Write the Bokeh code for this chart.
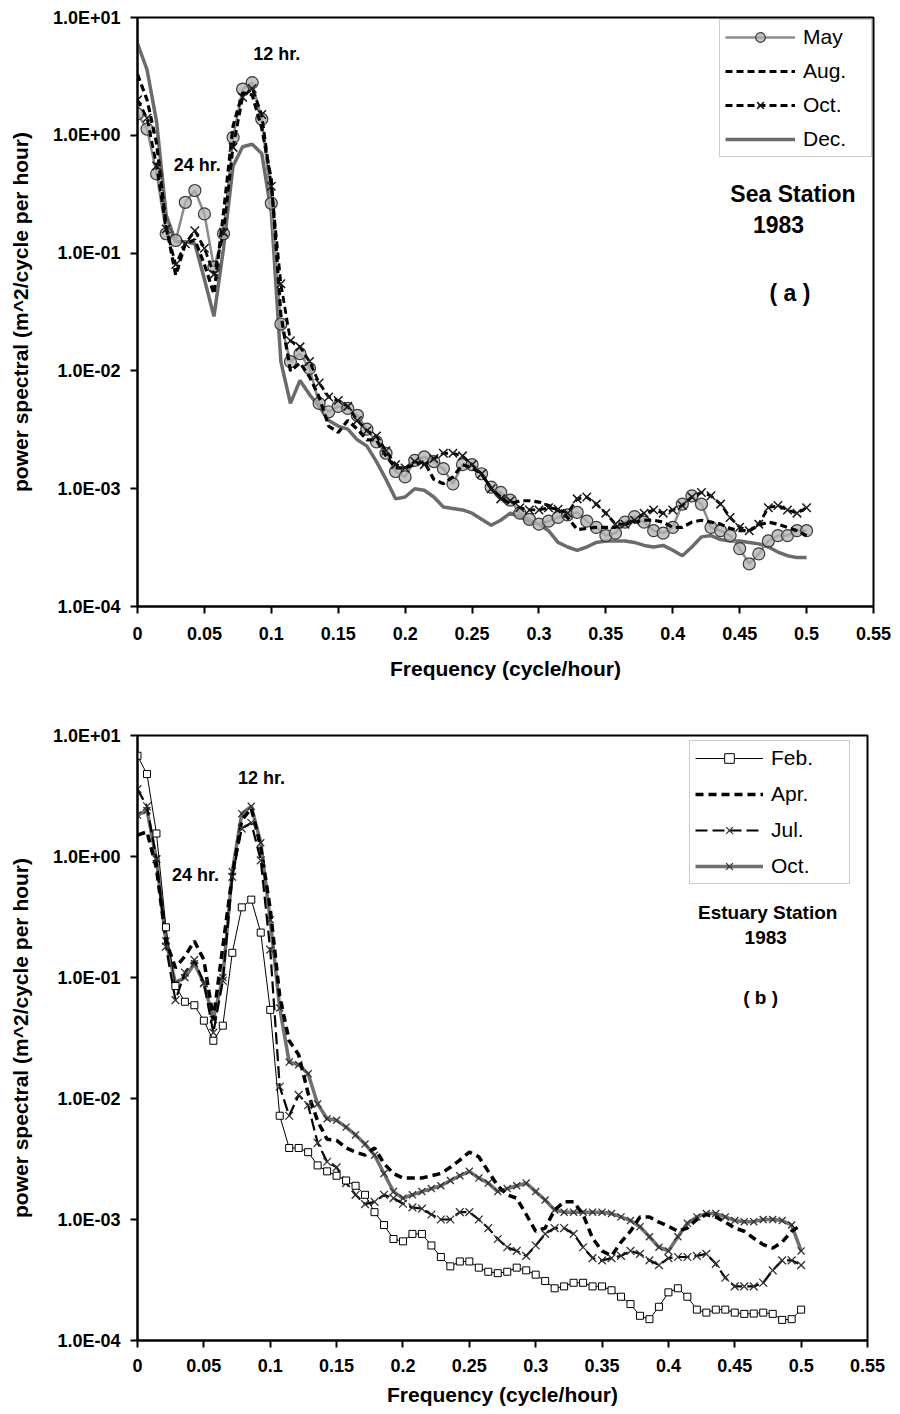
from bokeh.plotting import figure
from bokeh.layouts import column
from bokeh.models import (Range1d, FixedTicker, CustomJSTickFormatter, Legend,
                          LegendItem, Label)
from bokeh.embed import file_html
from bokeh.resources import INLINE

FONT = "Liberation Sans"

# frequency grid (cycle/hour), sampling step 1/140
freq = [round(i / 140, 6) for i in range(71)]

# ---------------- (a) Sea Station 1983 ----------------
sea_may = [1.52, 1.13, 0.47, 0.146, 0.128, 0.27, 0.34, 0.215, 0.076, 0.146,
           0.96, 2.47, 2.8, 1.37, 0.265, 0.025, 0.012, 0.014, 0.0105, 0.0053,
           0.0045, 0.005, 0.0048, 0.0042, 0.0032, 0.0025, 0.002, 0.0014, 0.00126, 0.00174,
           0.00186, 0.0017, 0.00148, 0.0011, 0.0016, 0.0016, 0.00134, 0.00103, 0.00093, 0.0008,
           0.00062, 0.00055, 0.0005, 0.00053, 0.00057, 0.0006, 0.00063, 0.00053, 0.00047, 0.0004,
           0.00042, 0.00052, 0.00058, 0.00052, 0.00044, 0.00042, 0.00047, 0.00074, 0.00087, 0.00074,
           0.00047, 0.00044, 0.0004, 0.00031, 0.00023, 0.00028, 0.00036, 0.0004, 0.0004, 0.00044, 0.00044]
sea_aug = [3.3, 2.0, 0.85, 0.17, 0.065, 0.12, 0.13, 0.08, 0.045, 0.22,
           1.2, 2.3, 2.2, 1.15, 0.42, 0.03, 0.01, 0.0117, 0.0089, 0.006,
           0.0034, 0.003, 0.0038, 0.0032, 0.0026, 0.0026, 0.0019, 0.0015, 0.0015, 0.0016,
           0.0017, 0.0012, 0.0011, 0.00126, 0.0016, 0.0015, 0.00134, 0.001, 0.00085, 0.00074,
           0.00079, 0.00079, 0.00077, 0.00072, 0.00066, 0.00057, 0.00045, 0.00046, 0.00047, 0.00047,
           0.00047, 0.0005, 0.00052, 0.00054, 0.00054, 0.00052, 0.00047, 0.00047, 0.00052, 0.00054,
           0.00052, 0.0005, 0.00046, 0.00044, 0.00044, 0.00049, 0.00052, 0.0005, 0.00047, 0.00044, 0.0004]
sea_oct = [2.0, 1.4, 0.55, 0.16, 0.08, 0.12, 0.155, 0.11, 0.066, 0.15,
           0.79, 2.1, 2.5, 1.5, 0.37, 0.055, 0.018, 0.016, 0.012, 0.0079,
           0.006, 0.0056, 0.005, 0.0038, 0.0031, 0.0028, 0.0021, 0.0016, 0.0015, 0.0017,
           0.0016, 0.0018, 0.002, 0.002, 0.0019, 0.0016, 0.00134, 0.001, 0.00082, 0.00079,
           0.00069, 0.00066, 0.00066, 0.00069, 0.00067, 0.00062, 0.00082, 0.00085, 0.00074, 0.00062,
           0.0005, 0.0005, 0.00054, 0.00062, 0.00066, 0.00062, 0.00066, 0.00072, 0.00085, 0.00093,
           0.00087, 0.00074, 0.00057, 0.00047, 0.00044, 0.0005, 0.00069, 0.00072, 0.00066, 0.00062, 0.00069]
sea_dec = [6.0, 3.6, 1.3, 0.21, 0.125, 0.125, 0.12, 0.06, 0.029, 0.11,
           0.55, 0.8, 0.84, 0.7, 0.22, 0.012, 0.0053, 0.0083, 0.0063, 0.005,
           0.0038, 0.0034, 0.0032, 0.0026, 0.0023, 0.0017, 0.0012, 0.00082, 0.00085, 0.001,
           0.00097, 0.00085, 0.0007, 0.00068, 0.00066, 0.00062, 0.00055, 0.00049, 0.00054, 0.00062,
           0.00058, 0.00052, 0.0005, 0.00044, 0.00035, 0.00032, 0.0003, 0.00032, 0.00035, 0.00036,
           0.00036, 0.00036, 0.00035, 0.00033, 0.00032, 0.00033, 0.0003, 0.00027, 0.00032, 0.00039,
           0.0004, 0.00037, 0.00036, 0.00036, 0.00035, 0.00034, 0.00032, 0.00029, 0.00027, 0.00026, 0.00026]

# ---------------- (b) Estuary Station 1983 ----------------
est_feb = [6.8, 4.8, 1.55, 0.26, 0.085, 0.063, 0.059, 0.044, 0.03, 0.04,
           0.16, 0.38, 0.44, 0.235, 0.054, 0.0072, 0.0039, 0.0039, 0.0036, 0.0028,
           0.0025, 0.0023, 0.0021, 0.0019, 0.0016, 0.00115, 0.0009, 0.00069, 0.00066, 0.00076,
           0.00076, 0.00061, 0.00049, 0.00041, 0.00045, 0.00045, 0.0004, 0.00037, 0.00036, 0.00037,
           0.0004, 0.00038, 0.00035, 0.00031, 0.00027, 0.00028, 0.0003, 0.0003, 0.00028, 0.00028,
           0.00026, 0.00023, 0.0002, 0.00016, 0.00015, 0.00019, 0.00025, 0.00027, 0.00023, 0.00018,
           0.00017, 0.00018, 0.00018, 0.00017, 0.000166, 0.000167, 0.00017, 0.000166, 0.000148, 0.00015, 0.00018]
est_apr = [1.5, 1.6, 0.8, 0.2, 0.12, 0.15, 0.2, 0.14, 0.045, 0.18,
           0.7, 2.0, 2.5, 1.2, 0.37, 0.07, 0.03, 0.023, 0.011, 0.0065,
           0.0046, 0.0045, 0.0039, 0.0036, 0.0034, 0.0039, 0.0029, 0.0024, 0.0022, 0.0022,
           0.0022, 0.0023, 0.0024, 0.0027, 0.0031, 0.0036, 0.0033, 0.0025, 0.0019, 0.0016,
           0.0015, 0.0011, 0.0008, 0.00085, 0.0012, 0.0014, 0.0014, 0.0011, 0.0007, 0.00055,
           0.0005, 0.00065, 0.0008, 0.00105, 0.00105, 0.00095, 0.00088, 0.0008, 0.00085, 0.001,
           0.0011, 0.00105, 0.00095, 0.00085, 0.0008, 0.0007, 0.00062, 0.00058, 0.00065, 0.0008, 0.0009]
est_jul = [3.6, 2.6, 0.95, 0.18, 0.065, 0.11, 0.14, 0.09, 0.035, 0.094,
           0.68, 1.7, 1.9, 0.93, 0.17, 0.0125, 0.0072, 0.0107, 0.0088, 0.0043,
           0.003, 0.0027, 0.002, 0.0016, 0.00134, 0.0014, 0.0016, 0.0015, 0.00135, 0.00126,
           0.00123, 0.0011, 0.001, 0.001, 0.00115, 0.00115, 0.001, 0.00085, 0.00069, 0.00059,
           0.00055, 0.0005, 0.00061, 0.00076, 0.00085, 0.00085, 0.00076, 0.00059, 0.00048, 0.00046,
           0.00048, 0.0005, 0.00055, 0.00052, 0.00046, 0.00042, 0.00048, 0.00049, 0.00049, 0.0005,
           0.00052, 0.00043, 0.00033, 0.00028, 0.00028, 0.00028, 0.0003, 0.00038, 0.00046, 0.00046, 0.00042]
est_oct = [2.2, 2.4, 0.95, 0.2, 0.09, 0.1, 0.13, 0.09, 0.045, 0.1,
           0.75, 2.26, 2.6, 1.3, 0.3, 0.056, 0.02, 0.019, 0.016, 0.009,
           0.0068, 0.0066, 0.0058, 0.005, 0.0042, 0.0034, 0.0024, 0.0017, 0.0015, 0.0016,
           0.0017, 0.0018, 0.0019, 0.0021, 0.0023, 0.0025, 0.0022, 0.002, 0.0017, 0.0018,
           0.0019, 0.002, 0.0017, 0.00145, 0.0012, 0.00115, 0.00115, 0.00115, 0.00115, 0.00115,
           0.00112, 0.00105, 0.00098, 0.00087, 0.00072, 0.00059, 0.00055, 0.00072, 0.00093, 0.00105,
           0.00112, 0.00112, 0.00105, 0.00098, 0.00096, 0.00096, 0.001, 0.001, 0.00098, 0.0009, 0.00055]

x_ticks = [0, 0.05, 0.1, 0.15, 0.2, 0.25, 0.3, 0.35, 0.4, 0.45, 0.5, 0.55]
y_ticks = [1e-4, 1e-3, 1e-2, 1e-1, 1, 10]

X_FMT = CustomJSTickFormatter(code="return tick.toFixed(2).replace(/\\.?0+$/, '');")
Y_FMT = CustomJSTickFormatter(code="""
const e = Math.round(Math.log10(tick));
return '1.0E' + (e < 0 ? '-' : '+') + String(Math.abs(e)).padStart(2, '0');
""")


def make_fig(fw, fh, left, top, right, bottom, lab_standoff, axlab_standoff):
    p = figure(frame_width=fw, frame_height=fh, x_range=Range1d(0, 0.55),
               y_range=Range1d(1e-4, 10), y_axis_type="log",
               output_backend="svg", toolbar_location=None,
               min_border_left=left, min_border_top=top,
               min_border_right=right, min_border_bottom=bottom)
    p.xgrid.grid_line_color = None
    p.ygrid.grid_line_color = None
    p.outline_line_color = "black"
    p.outline_line_width = 2
    p.xaxis.ticker = FixedTicker(ticks=x_ticks, minor_ticks=[])
    p.yaxis.ticker = FixedTicker(ticks=y_ticks, minor_ticks=[])
    p.xaxis.formatter = X_FMT
    p.yaxis.formatter = Y_FMT
    for ax in (p.xaxis[0], p.yaxis[0]):
        ax.axis_line_width = 2
        ax.axis_line_color = "black"
        ax.major_tick_line_width = 2
        ax.major_tick_line_color = "black"
        ax.major_tick_in = 0
        ax.major_tick_out = 7
        ax.minor_tick_line_color = None
        ax.major_label_text_font = FONT
        ax.major_label_text_font_style = "bold"
        ax.major_label_text_font_size = "18px"
        ax.major_label_text_color = "black"
        ax.axis_label_text_font = FONT
        ax.axis_label_text_font_style = "bold"
        ax.axis_label_text_font_size = "21px"
        ax.axis_label_text_color = "black"
    p.xaxis.major_label_standoff = lab_standoff
    p.xaxis.axis_label_standoff = axlab_standoff
    p.yaxis.major_label_standoff = 10
    p.yaxis.axis_label_standoff = 18
    p.xaxis.axis_label = "Frequency (cycle/hour)"
    p.yaxis.axis_label = "power spectral (m^2/cycle per hour)"
    return p


def add_label(p, x, y, text, size):
    p.add_layout(Label(x=x, y=y, text=text, text_align="center",
                       text_baseline="middle", text_font=FONT,
                       text_font_style="bold", text_font_size=size,
                       text_color="black"))


def make_legend(items, loc, glyph_w, label_w, spacing):
    return Legend(items=items, location=loc, orientation="vertical",
                  label_text_font=FONT, label_text_font_size="21px",
                  label_text_color="black",
                  glyph_width=glyph_w, glyph_height=24, label_height=24,
                  label_width=label_w, label_standoff=8, padding=5,
                  spacing=spacing, margin=0,
                  border_line_color="#9a9a9a", border_line_width=1,
                  background_fill_color="white", background_fill_alpha=1)


# ---------- panel (a) ----------
p1 = make_fig(736, 589, 137, 17, 27, 94, 13, 14)
r_dec = p1.line(freq, sea_dec, line_color="#6b6b6b", line_width=3.5)
r_may_l = p1.line(freq, sea_may, line_color="#8c8c8c", line_width=2.5)
r_may_m = p1.scatter(freq, sea_may, marker="circle", size=12,
                     fill_color="#b0b0b0", fill_alpha=0.75,
                     line_color="#3a3a3a", line_width=1.2)
r_aug = p1.line(freq, sea_aug, line_color="black", line_width=3.2, line_dash="7 4")
r_oct_l = p1.line(freq, sea_oct, line_color="black", line_width=2.8, line_dash="7 4")
r_oct_m = p1.scatter(freq, sea_oct, marker="x", size=12, line_color="#1a1a1a",
                     line_width=1.5)

leg1 = make_legend([LegendItem(label="May", renderers=[r_may_l, r_may_m]),
                    LegendItem(label="Aug.", renderers=[r_aug]),
                    LegendItem(label="Oct.", renderers=[r_oct_l, r_oct_m]),
                    LegendItem(label="Dec.", renderers=[r_dec])],
                   (582, 449), 70, 63, 10)
p1.add_layout(leg1)

add_label(p1, 0.104, 4.94, "12 hr.", "18px")
add_label(p1, 0.0446, 0.555, "24 hr.", "18px")
add_label(p1, 0.4898, 0.32, "Sea Station", "23px")
add_label(p1, 0.479, 0.175, "1983", "23px")
add_label(p1, 0.4876, 0.0454, "( a )", "23px")

# ---------- panel (b) ----------
p2 = make_fig(730, 605, 135, 35, 27, 72, 11, 8)
r_eoct_l = p2.line(freq, est_oct, line_color="#707070", line_width=3.5)
r_eoct_m = p2.scatter(freq, est_oct, marker="x", size=10, line_color="#333333",
                      line_width=1.3)
r_apr = p2.line(freq, est_apr, line_color="black", line_width=3.5, line_dash="8 5")
r_jul_l = p2.line(freq, est_jul, line_color="black", line_width=2.2, line_dash="12 5")
r_jul_m = p2.scatter(freq, est_jul, marker="x", size=11, line_color="#333333",
                     line_width=1.3)
r_feb_l = p2.line(freq, est_feb, line_color="black", line_width=1)
r_feb_m = p2.scatter(freq, est_feb, marker="square", size=7, fill_color="white",
                     line_color="black", line_width=1)

leg2 = make_legend([LegendItem(label="Feb.", renderers=[r_feb_l, r_feb_m]),
                    LegendItem(label="Apr.", renderers=[r_apr]),
                    LegendItem(label="Jul.", renderers=[r_jul_l, r_jul_m]),
                    LegendItem(label="Oct.", renderers=[r_eoct_l, r_eoct_m])],
                   (552, 456), 68, 73, 12)
p2.add_layout(leg2)

add_label(p2, 0.0934, 4.42, "12 hr.", "18px")
add_label(p2, 0.0437, 0.697, "24 hr.", "18px")
add_label(p2, 0.4748, 0.344, "Estuary Station", "19px")
add_label(p2, 0.4733, 0.214, "1983", "19px")
add_label(p2, 0.4695, 0.0684, "( b )", "19px")

layout = column(p1, p2, spacing=0)
open("out.html", "w").write(file_html(layout, INLINE))
